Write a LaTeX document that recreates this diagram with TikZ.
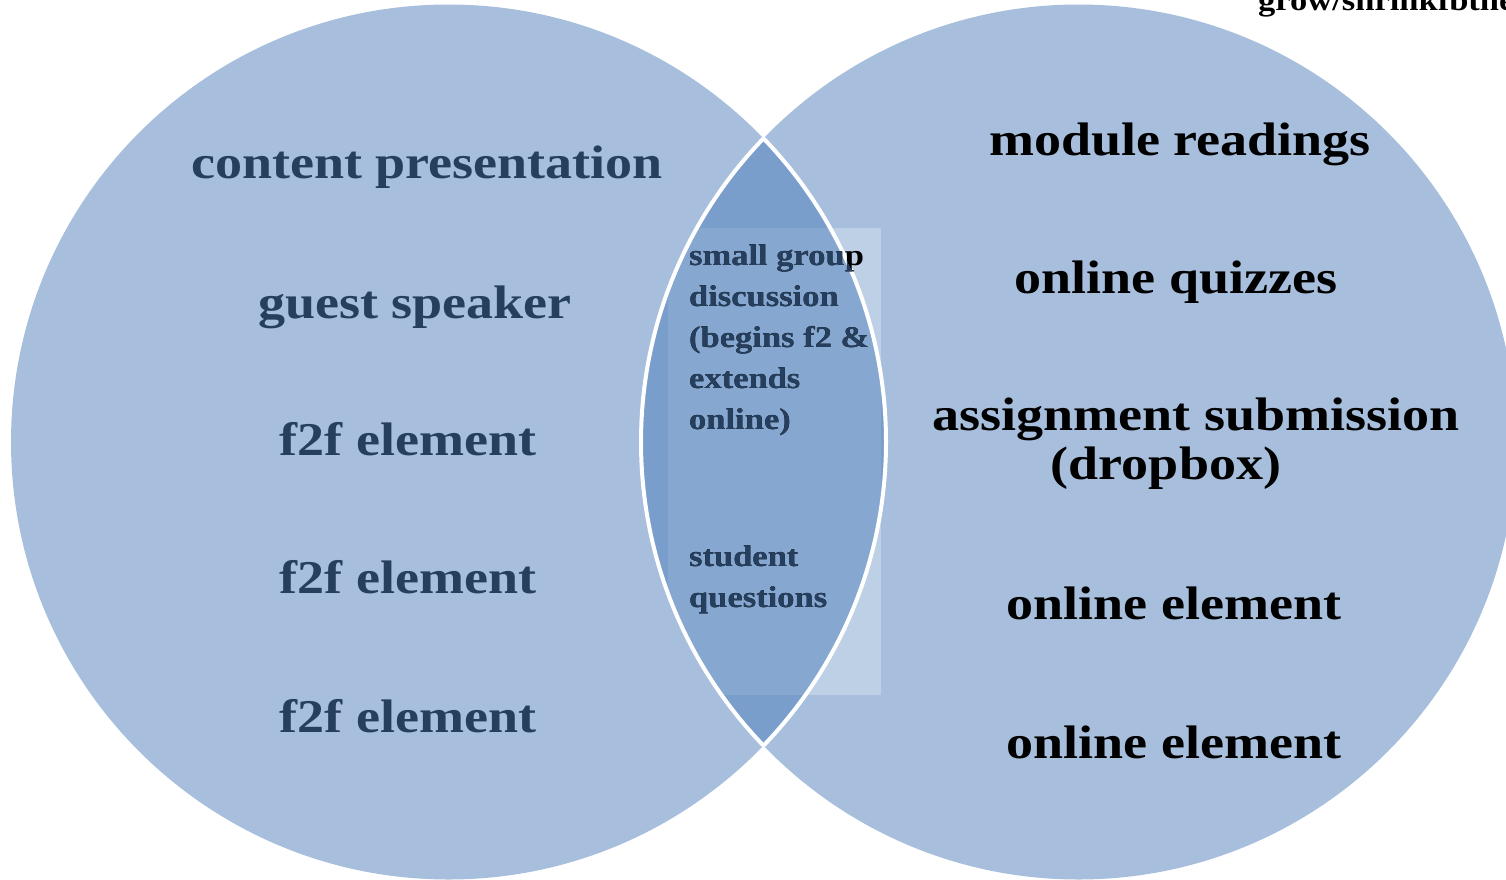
\documentclass[tikz,border=0pt]{standalone}
\usepackage{fontspec}
\setmainfont{Liberation Serif}[FakeStretch=1.15]
\definecolor{circ}{HTML}{A7BFDC}
\definecolor{lensc}{HTML}{7A9ECB}
\definecolor{boxo}{HTML}{BDD0E6}
\definecolor{boxi}{HTML}{86A8D0}
\definecolor{navy}{HTML}{263F5E}
\newcommand{\lenslines}[2]{%
  \node[smalltxt,text=#1] (sg#2) at (689,265) {small group};
  \node[smalltxt,text=#1] (di#2) at (689,306) {discussion};
  \node[smalltxt,text=#1] (be#2) at (689,347) {(begins f2 \&};
  \node[smalltxt,text=#1] (ex#2) at (689,388) {extends};
  \node[smalltxt,text=#1] (on#2) at (689,429) {online)};
  \node[smalltxt,text=#1] (st#2) at (689,566) {student};
  \node[smalltxt,text=#1] (qu#2) at (689,607) {questions};
}
\begin{document}
\begin{tikzpicture}[x=1pt,y=-1pt,
  bigtxt/.style={font=\fontsize{47}{56}\selectfont\bfseries, inner sep=0pt, anchor=base},
  smalltxt/.style={font=\fontsize{30}{41}\selectfont\bfseries, inner sep=0pt, anchor=base west},
  rim/.style={white, line width=4pt}]
\useasboundingbox (0,0) rectangle (1506,879);
\coordinate (L) at (448.5,442);
\coordinate (R) at (1078.5,442);
% circles
\fill[circ] (L) circle[radius=437.5pt];
\fill[circ] (R) circle[radius=437.5pt];
% lens
\begin{scope}
  \clip (L) circle[radius=437.5pt];
  \fill[lensc] (R) circle[radius=437.5pt];
\end{scope}
% text box
\begin{scope}
  \clip (R) circle[radius=437.5pt];
  \fill[boxo] (668,228) rectangle (881,695);
  \clip (L) circle[radius=437.5pt];
  \fill[boxi] (668,228) rectangle (881,695);
\end{scope}
% white rims of the lens
\begin{scope}
  \clip (R) circle[radius=437.5pt];
  \draw[rim] (L) circle[radius=437.5pt];
\end{scope}
\begin{scope}
  \clip (L) circle[radius=437.5pt];
  \draw[rim] (R) circle[radius=437.5pt];
\end{scope}
% left texts
\node[bigtxt,text=navy] (cp) at (427,178) {content presentation};
\node[bigtxt,text=navy] (gs) at (415,318) {guest speaker};
\node[bigtxt,text=navy] (f1) at (408,455) {f2f element};
\node[bigtxt,text=navy] (f2) at (408,593) {f2f element};
\node[bigtxt,text=navy] (f3) at (408,732) {f2f element};
% right texts
\node[bigtxt,text=black] (mr) at (1180,155) {module readings};
\node[bigtxt,text=black] (oq) at (1176,293) {online quizzes};
\node[bigtxt,text=black] (as) at (1196,430) {assignment submission};
\node[bigtxt,text=black] (db) at (1166,479) {(dropbox)};
\node[bigtxt,text=black] (o1) at (1174,619) {online element};
\node[bigtxt,text=black] (o2) at (1174,758) {online element};
% lens texts
\lenslines{black}{a}
\begin{scope}
  \clip (L) circle[radius=437.5pt];
  \lenslines{navy}{b}
\end{scope}
% cropped text at top
\node[font=\fontsize{30}{36}\selectfont\bfseries, inner sep=0pt, anchor=base west] (gr) at (1258,10) {grow/shrinkfbthe};
\end{tikzpicture}
\end{document}
